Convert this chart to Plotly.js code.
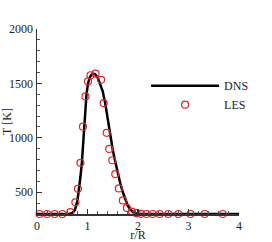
<!DOCTYPE html>
<html>
<head>
<meta charset="utf-8">
<script src="https://cdn.plot.ly/plotly-3.0.1.min.js"></script>
<style>html,body{margin:0;padding:0;background:#fff;}#chart{width:272px;height:242px;}</style>
</head>
<body>
<div id="chart"></div>
<script>
// DNS profile (r/R, T [K])
const dnsR = [0, 0.5, 0.6, 0.65, 0.7, 0.75, 0.8, 0.83, 0.86, 0.89, 0.92, 0.95, 0.98, 1.01, 1.05, 1.1, 1.15, 1.2, 1.25, 1.3, 1.35, 1.4, 1.45, 1.5, 1.55, 1.6, 1.65, 1.7, 1.75, 1.8, 1.85, 1.9, 1.95, 2.0, 2.1, 2.5, 3.0, 4.0];
const dnsT = [300, 300, 300, 302, 310, 335, 420, 520, 640, 780, 1000, 1220, 1400, 1500, 1560, 1590, 1585, 1555, 1500, 1430, 1320, 1170, 1030, 890, 780, 670, 580, 500, 430, 375, 340, 318, 307, 302, 300, 300, 300, 300];
// LES samples
const lesR = [0.05, 0.2, 0.35, 0.5, 0.66, 0.76, 0.81, 0.86, 0.91, 0.96, 1.01, 1.06, 1.16, 1.27, 1.32, 1.38, 1.43, 1.49, 1.55, 1.62, 1.70, 1.78, 1.88, 1.97, 2.06, 2.17, 2.29, 2.43, 2.6, 2.8, 3.04, 3.32, 3.68];
const lesT = [300, 300, 300, 300, 318, 407, 531, 770, 1102, 1380, 1518, 1575, 1590, 1533, 1319, 1046, 898, 794, 667, 535, 425, 356, 322, 308, 302, 300, 300, 300, 300, 300, 300, 300, 300];
const xTitle = 'r/R';
const yTitle = 'T [K]';

const serif = 'Liberation Serif, Times New Roman, serif';
const traces = [
  {x: dnsR, y: dnsT, name: 'DNS', mode: 'lines', line: {color: '#000', width: 2.5}},
  {x: lesR, y: lesT, name: 'LES', mode: 'markers', cliponaxis: false,
   marker: {symbol: 'circle-open', size: 7, color: '#e0262a', line: {width: 1.2, color: '#e0262a'}}}
];
const layout = {
  width: 272, height: 242,
  margin: {l: 37, r: 33, t: 29, b: 28},
  paper_bgcolor: '#fff', plot_bgcolor: '#fff',
  font: {family: serif, size: 12, color: '#222'},
  showlegend: true,
  legend: {x: 0.54, xanchor: 'left', y: 0.772, yanchor: 'top', bgcolor: 'rgba(0,0,0,0)',
           font: {family: serif, size: 12, color: '#222'}, itemwidth: 68, tracegroupgap: 0},
  xaxis: {range: [0, 4], tick0: 0, dtick: 1, ticks: 'inside', ticklen: 5, tickwidth: 1.2, tickcolor: '#333',
          showline: true, linecolor: '#333', linewidth: 1.5, showgrid: false, zeroline: false,
          minor: {dtick: 0.2, ticks: 'inside', ticklen: 3, tickcolor: '#555', tickwidth: 1},
          title: {text: xTitle, font: {family: serif, size: 12}, standoff: 5},
          tickfont: {family: serif, size: 12}},
  yaxis: {range: [300, 2000], tick0: 0, dtick: 500, ticks: 'inside', ticklen: 5, tickwidth: 1.2, tickcolor: '#333',
          showline: true, linecolor: '#333', linewidth: 1.5, showgrid: false, zeroline: false,
          minor: {dtick: 100, ticks: 'inside', ticklen: 3, tickcolor: '#555', tickwidth: 1},
          title: {text: yTitle, font: {family: serif, size: 12}, standoff: 2},
          tickfont: {family: serif, size: 12}}
};
Plotly.newPlot('chart', traces, layout, {staticPlot: true, displayModeBar: false});
</script>
</body>
</html>
